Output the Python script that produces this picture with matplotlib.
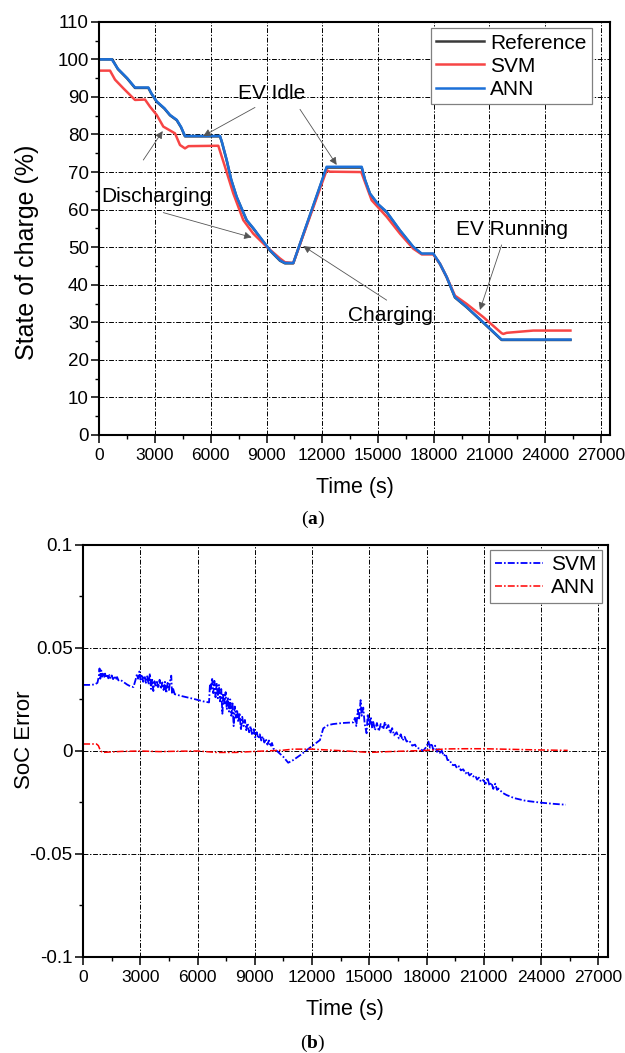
import matplotlib
matplotlib.use('Agg')
import matplotlib.pyplot as plt
from matplotlib.ticker import MultipleLocator, FixedLocator, FixedFormatter

plt.rcParams['font.family'] = ['Liberation Sans', 'DejaVu Sans']
plt.rcParams['axes.unicode_minus'] = False
plt.rcParams['lines.scale_dashes'] = False
plt.rcParams['mathtext.fontset'] = 'custom'
plt.rcParams['mathtext.bf'] = 'Liberation Serif:bold'
plt.rcParams['mathtext.rm'] = 'Liberation Serif'

# ---------------- (a) State of charge ----------------
ann_t = [0, 670, 1000, 1500, 1920, 2640, 2800, 3090, 3500, 3805, 4166, 4400, 4612, 6496, 6600,
         6857, 7100, 7395, 7933, 8300, 8649, 9187, 9725, 9994, 10441, 12239, 14123, 14300, 14569,
         15000, 15468, 16185, 16900, 17352, 17976, 18337, 18697, 19144, 19773, 20666, 21657, 25360]
ann_soc = [100, 100, 97.5, 95, 92.5, 92.5, 91, 88.8, 87, 85.2, 83.9, 82, 79.6, 79.6, 78,
           73.2, 68, 63.4, 57.2, 55, 52.7, 49.2, 46.5, 45.8, 45.8, 71.4, 71.4, 68, 64.3,
           61.5, 59.4, 54.5, 50.1, 48.3, 48.3, 45.6, 42.1, 36.7, 34.1, 30.0, 25.4, 25.4]

ref_t = [0, 700, 1000, 1500, 1920, 2640, 2800, 3090, 3500, 3805, 4166, 4400, 4612, 6496, 6600,
         6857, 7100, 7395, 7933, 8300, 8649, 9187, 9725, 9994, 10441, 12239, 14123, 14300, 14569,
         15000, 15468, 16185, 16900, 17352, 17976, 18337, 18697, 19144, 19773, 20666, 21657, 25360]
ref_soc = [100, 100, 97.4, 94.9, 92.4, 92.4, 90.9, 88.7, 86.9, 85.1, 83.8, 81.9, 79.5, 79.5, 77.9,
           73.1, 67.9, 63.3, 57.1, 54.9, 52.6, 49.1, 46.4, 45.7, 45.7, 71.2, 71.2, 67.9, 64.2,
           61.4, 59.3, 54.4, 50.0, 48.2, 48.2, 45.5, 42.0, 36.6, 34.0, 29.9, 25.3, 25.3]

svm_t = [0, 576, 845, 1292, 1921, 2460, 2729, 3089, 3445, 4074, 4343, 4612, 4800, 6405, 6765,
         7212, 7750, 8288, 9009, 9725, 9994, 10441, 12239, 12400, 14100, 14660, 15468, 16185,
         16900, 17352, 17976, 18337, 18697, 19144, 19773, 20666, 21657, 21750, 21925, 23358, 25360]
svm_soc = [97, 97, 94.6, 92.3, 89.2, 89.3, 87.4, 85.2, 82.1, 80.3, 77.2, 76.3, 76.9, 77.0, 71.4,
           64.3, 57.2, 53.6, 50.1, 47.0, 46.0, 45.8, 70.5, 70.1, 70.0, 62.5, 58.1, 53.6,
           49.6, 48.1, 48.1, 45.6, 42.1, 37.1, 34.9, 31.4, 27.1, 26.9, 27.2, 27.8, 27.8]

# ---------------- (b) SoC error ----------------
err_svm_t = [0, 300, 600, 750,
             820, 860, 900, 950, 1000, 1050, 1100, 1150, 1200, 1260, 1320, 1380, 1440, 1500, 1570,
             1640, 1710, 1780, 1850, 1950, 2100, 2300, 2500, 2640,
             2750, 2820, 2880, 2950, 3010, 3080, 3150, 3220, 3290, 3360, 3430, 3500, 3560, 3620,
             3680, 3740, 3800, 3870, 3940, 4010, 4080, 4150, 4220, 4290, 4360, 4430, 4500, 4560,
             4620, 4660, 4720, 4800,
             5200, 5800, 6300, 6600,
             6650, 6700, 6760, 6820, 6880, 6940, 7000, 7060, 7120, 7180, 7240, 7300, 7350, 7410,
             7470, 7530, 7590, 7650, 7710, 7770, 7830, 7890, 7950, 8010, 8070, 8130, 8200, 8270,
             8340, 8410, 8480, 8550, 8620, 8700, 8780, 8860, 8940, 9020, 9100, 9180, 9260, 9340,
             9420, 9500, 9580, 9660, 9740, 9820, 9900, 9980,
             10150, 10490, 10750, 11015, 11400, 11717, 12100, 12414, 12587, 12850, 13111, 13600, 14160,
             14250, 14320, 14400, 14460, 14546, 14600, 14684, 14760, 14859, 14920, 15000, 15080,
             15150, 15207, 15300, 15400, 15500, 15600, 15731, 15820, 15905, 16000, 16100, 16200,
             16300, 16433, 16550, 16650, 16750, 16850, 16957, 17100, 17250, 17400, 17481, 17650,
             17827, 18000, 18100, 18180, 18267, 18350, 18450, 18550, 18650, 18702, 18800, 18900,
             19000, 19100, 19226, 19300, 19401, 19500, 19600, 19700, 19800, 19924, 20050, 20150,
             20250, 20350, 20448, 20550, 20650, 20750, 20850, 20972, 21100, 21200, 21300, 21400,
             21500, 21600, 21700, 21759,
             22000, 22198, 22600, 23200, 24000, 24700, 25300]
err_svm = [0.032, 0.032, 0.0322, 0.033,
           0.036, 0.040, 0.035, 0.039, 0.036, 0.038, 0.0355, 0.0375, 0.0355, 0.0372, 0.0352, 0.0368,
           0.035, 0.0366, 0.0348, 0.0362, 0.0345, 0.0358, 0.0342, 0.0345, 0.0335, 0.0322, 0.0312, 0.031,
           0.0345, 0.0372, 0.0350, 0.0385, 0.0345, 0.0370, 0.0335, 0.0365, 0.0330, 0.0362, 0.0322,
           0.0376, 0.0300, 0.0345, 0.0290, 0.0338, 0.0310, 0.0335, 0.0305, 0.0345, 0.0300, 0.0332,
           0.0295, 0.0335, 0.0280, 0.0330, 0.0295, 0.0340, 0.0365, 0.0275, 0.0300, 0.0275,
           0.0265, 0.0252, 0.0240, 0.0235,
           0.0325, 0.0300, 0.0355, 0.0280, 0.0340, 0.0260, 0.0330, 0.0255, 0.0320, 0.0240, 0.0300,
           0.0180, 0.0280, 0.0230, 0.0285, 0.0200, 0.0260, 0.0190, 0.0250, 0.0170, 0.0230, 0.0120,
           0.0215, 0.0160, 0.0200, 0.0140, 0.0185, 0.0100, 0.0165, 0.0120, 0.0150, 0.0100, 0.0135,
           0.0090, 0.0120, 0.0075, 0.0105, 0.0065, 0.0090, 0.0060, 0.0080, 0.0050, 0.0070, 0.0040,
           0.0058, 0.0030, 0.0050, 0.0020, 0.0038, 0.0010,
           0.0, -0.0029, -0.0058, -0.0045, -0.0020, 0.0003, 0.003, 0.0052, 0.0109, 0.0125, 0.013,
           0.0135, 0.0138,
           0.0160, 0.0120, 0.0200, 0.0150, 0.0246, 0.0170, 0.0210, 0.0130, 0.0085, 0.0180, 0.0120,
           0.0165, 0.0110, 0.0140, 0.0100, 0.0135, 0.0095, 0.0130, 0.0105, 0.0140, 0.0110, 0.0125,
           0.0085, 0.0110, 0.0075, 0.0090, 0.0060, 0.0080, 0.0050, 0.0068, 0.0045, 0.0050, 0.0025,
           0.0030, 0.0015, 0.0010, 0.0, 0.0020, 0.0045, 0.0015, 0.0036, 0.0005, 0.0025, -0.0005,
           0.0015, -0.0010, 0.0000, -0.0025, -0.0015, -0.0045, -0.0045, -0.0065, -0.0070, -0.0068,
           -0.0085, -0.0075, -0.0095, -0.0090, -0.0110, -0.0100, -0.0120, -0.0112, -0.0125, -0.0120,
           -0.0140, -0.0130, -0.0150, -0.0142, -0.0160, -0.0130, -0.0170, -0.0155, -0.0185, -0.0160,
           -0.0190, -0.0183,
           -0.0205, -0.0215, -0.0230, -0.0243, -0.0252, -0.0258, -0.0262]

err_ann_t = [0, 700, 800, 900, 1000, 2000, 3000, 4000, 5000, 6000, 7000, 8000, 9000, 10000, 10500,
             11000, 12000, 13000, 14000, 15000, 16000, 17000, 18000, 19000, 20000, 21000, 22000,
             23000, 24000, 25400]
err_ann = [0.0033, 0.0033, 0.0025, 0.0002, -0.0008, -0.0003, -0.0001, -0.0004, -0.0002, -0.0001,
           -0.0008, -0.0008, -0.0003, 0.0001, 0.0003, 0.0008, 0.0008, 0.0003, -0.0002, -0.0008,
           -0.0004, -0.0001, 0.0002, 0.0009, 0.0010, 0.0010, 0.0008, 0.0006, 0.0004, 0.0002]

err_ticks = [-0.1, -0.05, 0, 0.05, 0.1]
err_tick_labels = ['-0.1', '-0.05', '0', '0.05', '0.1']

# ---------------- figure ----------------
fig = plt.figure(figsize=(6.25, 10.53), dpi=100)
ax1 = fig.add_axes([0.1589, 0.5869, 0.8174, 0.3924])
ax2 = fig.add_axes([0.1330, 0.0915, 0.8394, 0.3910])

grid_ls = (0, (3.5, 1.2, 1.0, 1.2))
dd = (0, (5, 1.5, 1.2, 1.5))

for ax in (ax1, ax2):
    ax.set_xlim(0, 27500)
    ax.xaxis.set_major_locator(MultipleLocator(3000))
    ax.xaxis.set_minor_locator(MultipleLocator(1500))
    ax.grid(True, which='major', color='black', linestyle=grid_ls, linewidth=0.7)
    ax.tick_params(which='major', direction='out', length=6, width=1.1, labelsize=12.5, pad=3.5)
    ax.tick_params(which='minor', direction='out', length=3, width=1.0)
    ax.tick_params(axis='y', which='major', pad=1.5)
    for s in ax.spines.values():
        s.set_linewidth(1.5)
    ax.set_axisbelow(True)

# (a)
ax1.plot(ref_t, ref_soc, color='#3a3a3a', lw=1.8, label='Reference')
ax1.plot(svm_t, svm_soc, color='#F74545', lw=1.8, label='SVM')
ax1.plot(ann_t, ann_soc, color='#1C70D8', lw=1.8, label='ANN')
ax1.set_ylim(0, 110)
ax1.yaxis.set_major_locator(MultipleLocator(10))
ax1.yaxis.set_minor_locator(MultipleLocator(5))
ax1.tick_params(axis='y', labelsize=13.5)
ax1.set_xlabel('Time (s)', fontsize=15.5)
ax1.xaxis.label.set_va('center')
ax1.xaxis.set_label_coords(0.5, -53 / 413.2)
ax1.set_ylabel('State of charge (%)', fontsize=18)
ax1.yaxis.label.set_va('center')
ax1.yaxis.set_label_coords(-0.1415, 0.443)
leg1 = ax1.legend(loc='upper right', bbox_to_anchor=(0.964, 0.984), fontsize=15,
                  frameon=True, fancybox=False, edgecolor='#808080', framealpha=1,
                  borderpad=0.25, handlelength=2.3, handletextpad=0.3, labelspacing=0.2,
                  borderaxespad=0)
leg1.get_frame().set_linewidth(0.9)

arrow = dict(arrowstyle='-|>', color='#555555', lw=0.6, mutation_scale=11,
             shrinkA=0, shrinkB=0)
ax1.text(3089, 63.4, 'Discharging', fontsize=15, ha='center', va='center')
ax1.annotate('', xy=(3412, 80.9), xytext=(2368, 73.2), arrowprops=arrow)
ax1.annotate('', xy=(8202, 52.6), xytext=(3445, 59.2), arrowprops=arrow)
ax1.text(9278, 90.8, 'EV Idle', fontsize=15, ha='center', va='center')
ax1.annotate('', xy=(5597, 79.6), xytext=(8380, 87.2), arrowprops=arrow)
ax1.annotate('', xy=(12777, 71.9), xytext=(10802, 86.7), arrowprops=arrow)
ax1.text(15646, 31.9, 'Charging', fontsize=15, ha='center', va='center')
ax1.annotate('', xy=(10979, 50.3), xytext=(15468, 35.9), arrowprops=arrow)
ax1.text(22195, 54.6, 'EV Running', fontsize=15, ha='center', va='center')
ax1.annotate('', xy=(20489, 33.3), xytext=(21657, 50.6), arrowprops=arrow)

# (b)
ax2.plot(err_svm_t, err_svm, color='#0000FF', lw=1.3, linestyle=dd, label='SVM')
ax2.plot(err_ann_t, err_ann, color='#FF0000', lw=1.1, linestyle=dd, label='ANN')
ax2.set_ylim(-0.1, 0.1)
ax2.yaxis.set_major_locator(FixedLocator(err_ticks))
ax2.yaxis.set_major_formatter(FixedFormatter(err_tick_labels))
ax2.yaxis.set_minor_locator(MultipleLocator(0.025))
ax2.tick_params(axis='y', labelsize=13.5)
ax2.set_xlabel('Time (s)', fontsize=15.5)
ax2.xaxis.label.set_va('center')
ax2.xaxis.set_label_coords(0.5, -53 / 411.7)
ax2.set_ylabel('SoC Error', fontsize=16)
ax2.yaxis.label.set_va('center')
ax2.yaxis.set_label_coords(-0.111, 0.526)
leg2 = ax2.legend(loc='upper right', bbox_to_anchor=(0.9886, 0.9878), fontsize=15,
                  frameon=True, fancybox=False, edgecolor='#808080', framealpha=1,
                  borderpad=0.25, handlelength=2.3, handletextpad=0.4, labelspacing=0.2,
                  borderaxespad=0)
leg2.get_frame().set_linewidth(0.9)

fig.text(0.5, 1 - 519 / 1053, r'($\mathbf{a}$)', fontsize=14, family='Liberation Serif',
         ha='center', va='center')
fig.text(0.5, 1 - 1043 / 1053, r'($\mathbf{b}$)', fontsize=14, family='Liberation Serif',
         ha='center', va='center')

fig.savefig('out.png', dpi=100)
